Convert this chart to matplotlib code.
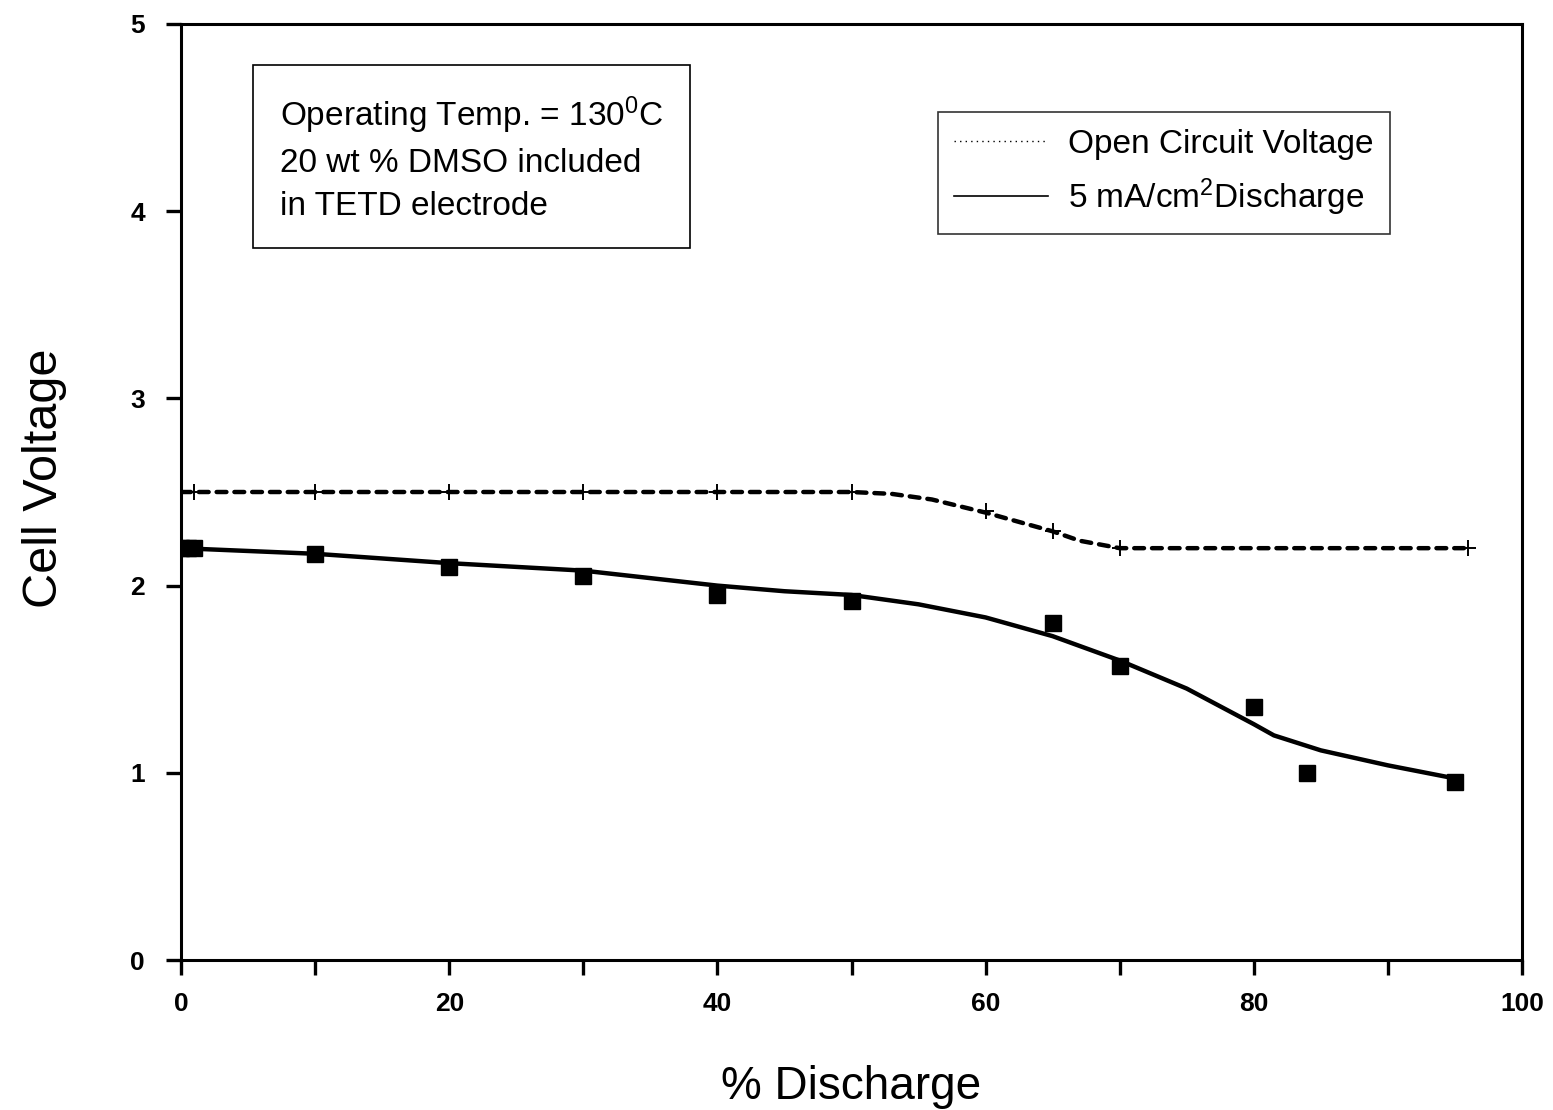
import matplotlib
matplotlib.use("Agg")
import matplotlib.pyplot as plt
from matplotlib.lines import Line2D

plt.rcParams['font.family'] = ['Liberation Sans', 'DejaVu Sans']
plt.rcParams['mathtext.fontset'] = 'custom'
plt.rcParams['mathtext.rm'] = 'Liberation Sans'
plt.rcParams['mathtext.it'] = 'Liberation Sans'
plt.rcParams['mathtext.bf'] = 'Liberation Sans:bold'

# Open circuit voltage points (+)
ocv_x = [0, 1, 10, 20, 30, 40, 50, 60, 65, 70, 96]
ocv_y = [2.5, 2.5, 2.5, 2.5, 2.5, 2.5, 2.5, 2.40, 2.29, 2.20, 2.20]
# Open circuit voltage smoothed curve (dashed)
ocv_curve_x = [0, 50, 53, 56, 60, 63, 65, 67, 70, 96]
ocv_curve_y = [2.5, 2.5, 2.49, 2.46, 2.39, 2.33, 2.29, 2.24, 2.20, 2.20]

# 5 mA/cm2 discharge points (squares)
dis_x = [0, 0.5, 1, 10, 20, 30, 40, 50, 65, 70, 80, 84, 95]
dis_y = [2.2, 2.2, 2.2, 2.17, 2.10, 2.05, 1.95, 1.92, 1.80, 1.57, 1.35, 1.00, 0.95]
# Discharge fitted curve (solid)
fit_x = [0, 10, 20, 30, 40, 45, 50, 55, 60, 65, 70, 75, 80, 81.5, 85, 90, 95]
fit_y = [2.2, 2.17, 2.12, 2.08, 2.0, 1.97, 1.95, 1.90, 1.83, 1.73, 1.60, 1.45, 1.26, 1.20, 1.12, 1.04, 0.97]

xticks = [0, 10, 20, 30, 40, 50, 60, 70, 80, 90, 100]
xticklabels = ['0', '', '20', '', '40', '', '60', '', '80', '', '100']
yticks = [0, 1, 2, 3, 4, 5]

fig = plt.figure(figsize=(15.53, 11.10), dpi=100)
ax = fig.add_axes([0.1166, 0.1351, 0.8634, 0.8433])

ax.plot(ocv_curve_x, ocv_curve_y, color='black', lw=3.2, dashes=(2.2, 1.8),
        dash_capstyle='round')
ax.plot(ocv_x, ocv_y, linestyle='none', marker='+', color='black',
        markersize=12, mew=1.4)
ax.plot(fit_x, fit_y, color='black', lw=3.2)
ax.plot(dis_x, dis_y, linestyle='none', marker='s', color='black',
        markersize=11.5)

ax.set_xlim(0, 100)
ax.set_ylim(0, 5)
ax.set_xticks(xticks)
ax.set_xticklabels(xticklabels)
ax.set_yticks(yticks)
ax.tick_params(direction='out', length=11, width=2.4, labelsize=19)
ax.tick_params(axis='x', pad=12)
ax.tick_params(axis='y', pad=15)
for lab in ax.get_xticklabels() + ax.get_yticklabels():
    lab.set_fontweight('bold')
for sp in ax.spines.values():
    sp.set_linewidth(2.2)

ax.set_xlabel('% Discharge', fontsize=33, labelpad=35)
ax.set_ylabel('Cell Voltage', fontsize=35)
ax.yaxis.set_label_coords(-0.085, 0.515)

# annotation box
ax.text(0.0738, 0.925,
        'Operating Temp. = 130$^{0}$C\n20 wt % DMSO included\nin TETD electrode',
        transform=ax.transAxes, fontsize=24, va='top', ha='left',
        linespacing=1.5,
        bbox=dict(boxstyle='square,pad=0.8', facecolor='white',
                  edgecolor='black', lw=1.2))

# legend
handles = [Line2D([], [], color='black', lw=1, linestyle=(0, (1, 3))),
           Line2D([], [], color='black', lw=1.2)]
leg = ax.legend(handles, ['Open Circuit Voltage', '5 mA/cm$^{2}$Discharge'],
                loc='upper right', bbox_to_anchor=(0.9016, 0.906),
                borderaxespad=0, fontsize=24, frameon=True, fancybox=False,
                handlelength=2.8, handletextpad=0.6,
                borderpad=0.5, labelspacing=0.5)
leg.get_frame().set_edgecolor('black')
leg.get_frame().set_linewidth(1.2)

fig.savefig('out.png', dpi=100)
